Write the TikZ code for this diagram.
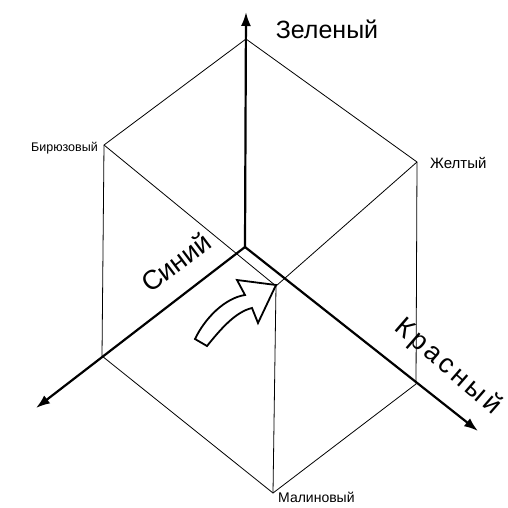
\documentclass[tikz,border=0pt]{standalone}
\usepackage{fontspec}
\setmainfont{Liberation Sans}
\usetikzlibrary{arrows.meta}
\tikzset{
  edge/.style={draw=black,line width=0.8pt},
  axis/.style={draw=black,line width=2.2pt,-{Latex[length=14pt,width=10pt]}},
  biglabel/.style={font=\fontsize{25}{29}\selectfont,inner sep=0pt},
  smalllabel/.style={font=\fontsize{14}{17}\selectfont,inner sep=0pt},
  blockarrow/.style={draw=black,fill=white,line width=1.8pt,line join=miter}
}
\begin{document}
\begin{tikzpicture}[x=1pt,y=-1pt]
\useasboundingbox (0,0) rectangle (508,508);
% vertices
\coordinate (O) at (245,247);
\coordinate (G) at (246,12);
\coordinate (Bt) at (36,408);
\coordinate (Rt) at (478,431);
\coordinate (T) at (246,39);
\coordinate (C) at (104,145);
\coordinate (Y) at (417,162);
\coordinate (BL) at (102,356);
\coordinate (RL) at (416,384);
\coordinate (M) at (273,493);
\coordinate (W) at (276,286);
% cube edges
\draw[edge] (T) -- (C) -- (BL) -- (M) -- (RL) -- (Y) -- cycle;
\draw[edge] (C) -- (W) -- (Y);
\draw[edge] (W) -- (M);
% axes
\draw[axis] (O) -- (G);
\draw[axis] (O) -- (Bt);
\draw[axis] (O) -- (Rt);
% curved block arrow
\draw[blockarrow] (276,285) -- (237,280) -- (245,295)
  .. controls (225,298) and (205,318) .. (195,339)
  -- (207,346)
  .. controls (220,330) and (235,312) .. (252,308)
  -- (258,323) -- cycle;
% labels
\node[biglabel] (lg) at (327,29) {Зеленый};
\node[biglabel,rotate=37,font=\fontsize{27}{31}\selectfont] (lb) at (176,262) {Синий};
\node[biglabel,rotate=-41,font=\fontsize{27}{31}\selectfont\addfontfeature{LetterSpace=14}] (lr) at (448,367) {Красный};
\node[smalllabel,anchor=east,font=\fontsize{12.5}{15}\selectfont] (lc) at (98,148) {Бирюзовый};
\node[smalllabel,anchor=west,font=\fontsize{15}{18}\selectfont] (ly) at (430,163) {Желтый};
\node[smalllabel,anchor=west] (lm) at (278,497) {Малиновый};
\end{tikzpicture}
\end{document}
